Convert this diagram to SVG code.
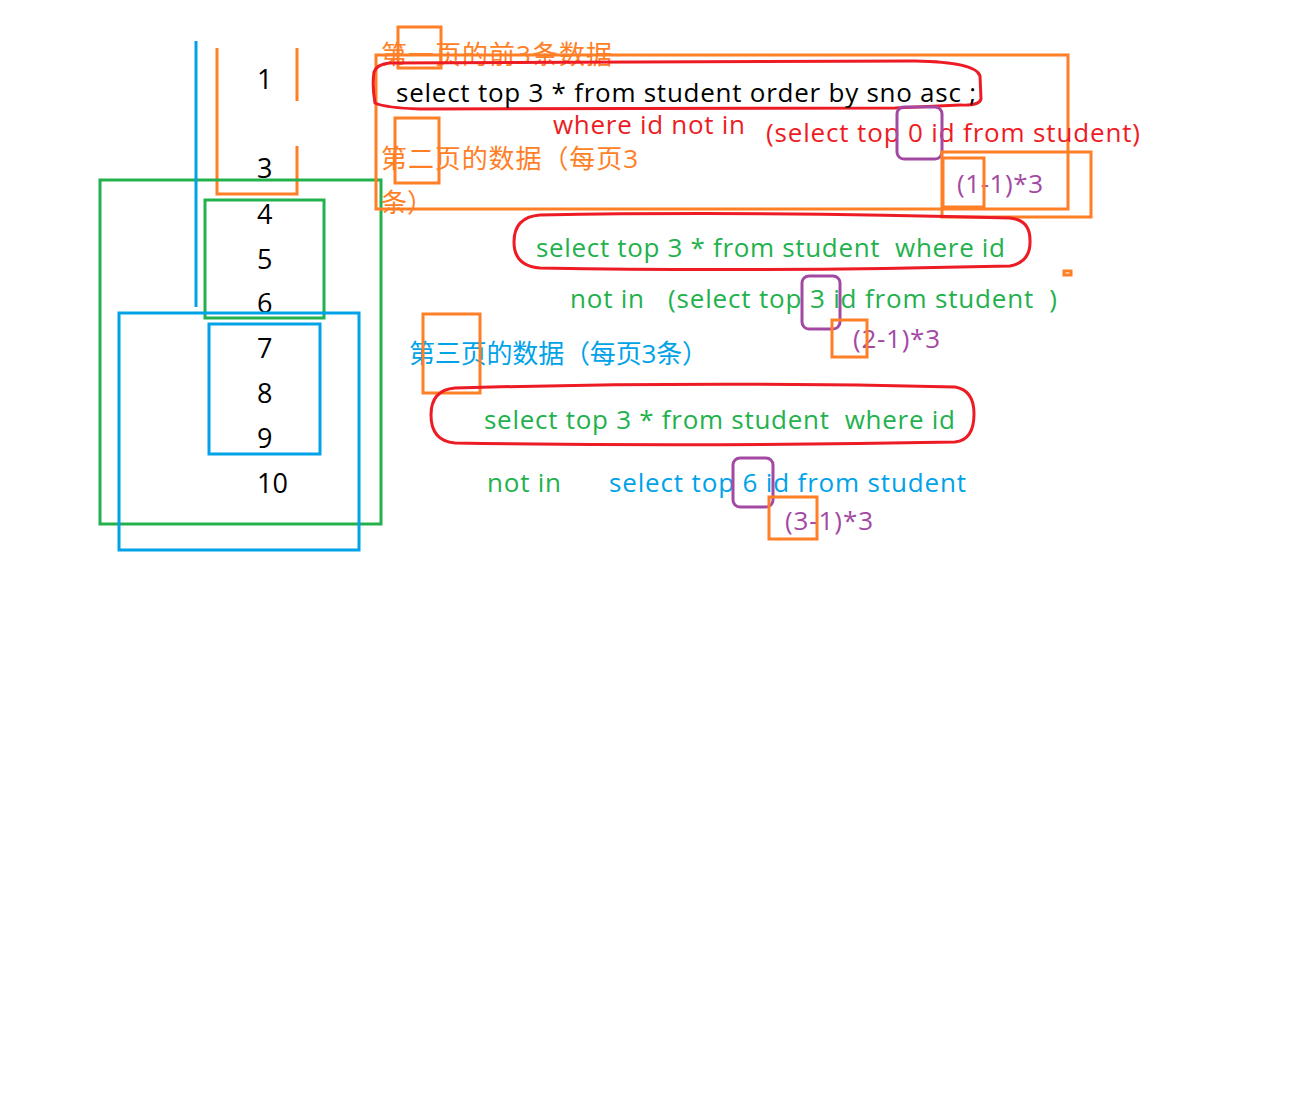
<svg xmlns="http://www.w3.org/2000/svg" width="1316" height="1100" viewBox="0 0 1316 1100">
<style>
.t{font-family:"Open Sans","Noto Sans CJK SC",sans-serif;font-size:26px}
.n{font-family:"Open Sans",sans-serif;font-size:27px;fill:#000}
.k{fill:#000}.r{fill:#ed1c24}.g{fill:#22b14c}.b{fill:#00a2e8}.p{fill:#a349a4}.o{fill:#ff7f27}
.so{fill:none;stroke:#ff7f27;stroke-width:3}
.sg{fill:none;stroke:#22b14c;stroke-width:3}
.sb{fill:none;stroke:#00a2e8;stroke-width:3}
.sp{fill:none;stroke:#a349a4;stroke-width:3}
.sr{fill:none;stroke:#ed1c24;stroke-width:3}
</style>
<rect width="1316" height="1100" fill="#fff"/>
<g id="numbers">
<text class="n" x="257" y="89">1</text>
<text class="n" x="257" y="178">3</text>
<text class="n" x="257" y="224">4</text>
<text class="n" x="257" y="269">5</text>
<text class="n" x="257" y="313">6</text>
<text class="n" x="257" y="358">7</text>
<text class="n" x="257" y="403">8</text>
<text class="n" x="257" y="448">9</text>
<text class="n" x="257" y="493">10</text>
</g>
<g id="left-shapes">
<path class="so" d="M217 48 V194 H297 V146 M297 48 V101"/>
<rect id="page2-outer" class="sg" x="100" y="180" width="281" height="344"/>
<rect id="page2-inner" class="sg" x="205" y="200" width="119" height="118"/>
<rect id="page3-outer" class="sb" x="119" y="313" width="240" height="237"/>
<rect id="page3-inner" class="sb" x="209" y="324" width="111" height="130"/>
<line class="sb" x1="196" y1="41" x2="196" y2="307"/>
</g>
<g id="page1">
<text class="t o" x="381" y="64" textLength="231">第一页的前3条数据</text>
<rect class="so" x="398" y="27" width="43" height="41"/>
<rect class="so" x="376" y="55" width="692" height="154"/>
<path class="sr" d="M390 63 L915 61 Q976 62 980 76 L981 99 Q979 106 960 105 L895 108 L420 109 Q386 108 375 103 Q372 86 374 72 Q377 64 390 63 Z"/>
<text class="t k" x="396" y="102" textLength="580">select top 3 * from student order by sno asc ;</text>
</g>
<g id="page2">
<text class="t r" x="553" y="134" textLength="192">where id not in</text>
<text class="t r" x="766" y="142" textLength="374">(select top 0 id from student)</text>
<rect class="sp" x="897" y="107" width="45" height="52" rx="7"/>
<text class="t p" x="957" y="193" textLength="86">(1-1)*3</text>
<rect class="so" x="942" y="152" width="149" height="65"/>
<rect class="so" x="943" y="158" width="41" height="49"/>
<text class="t o" x="381" y="168" textLength="257">第二页的数据（每页3</text>
<text class="t o" x="381" y="212">条）</text>
<rect class="so" x="395" y="118" width="44" height="65"/>
<path class="sr" d="M540 215 Q760 211 1010 218 Q1030 220 1030 240 Q1031 262 1010 266 Q760 272 540 268 Q514 266 514 242 Q514 217 540 215 Z"/>
<text class="t g" x="536" y="257" textLength="469" xml:space="preserve">select top 3 * from student  where id</text>
<text class="t g" x="570" y="308" textLength="74">not in</text>
<text class="t g" x="668" y="308" textLength="389" xml:space="preserve">(select top 3 id from student  )</text>
<rect class="sp" x="802" y="276" width="38" height="53" rx="7"/>
<text class="t p" x="853" y="348" textLength="87">(2-1)*3</text>
<rect class="so" x="832" y="320" width="35" height="37"/>
<rect class="so" x="1064" y="271" width="7" height="4"/>
</g>
<g id="page3">
<text class="t b" x="409" y="363" textLength="299">第三页的数据（每页3条）</text>
<rect class="so" x="423" y="314" width="57" height="79"/>
<path class="sr" d="M455 388 Q700 381 955 387 Q974 390 974 414 Q974 440 955 442 Q700 447 455 443 Q431 441 431 415 Q431 390 455 388 Z"/>
<text class="t g" x="484" y="429" textLength="471" xml:space="preserve">select top 3 * from student  where id</text>
<text class="t g" x="487" y="492" textLength="74">not in</text>
<text class="t b" x="609" y="492" textLength="357">select top 6 id from student</text>
<rect class="sp" x="733" y="458" width="40" height="49" rx="7"/>
<text class="t p" x="785" y="530" textLength="88">(3-1)*3</text>
<rect class="so" x="769" y="497" width="48" height="42"/>
</g>
<g id="connectors"/>
</svg>
